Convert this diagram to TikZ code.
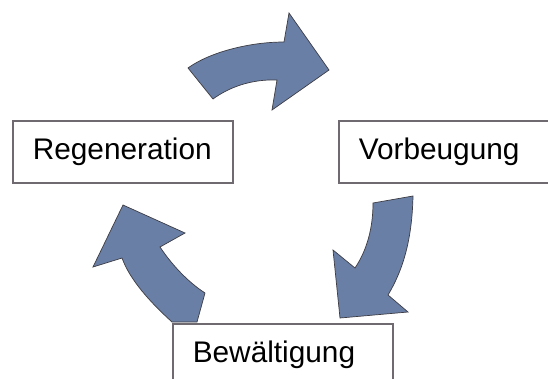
\documentclass[tikz,border=0pt]{standalone}
\usepackage{fontspec}
\setmainfont{Liberation Sans}
\definecolor{arrowfill}{HTML}{6A7FA5}
\definecolor{arrowline}{HTML}{3C3C44}
\definecolor{boxline}{HTML}{6F6A6F}
\begin{document}
\begin{tikzpicture}[x=1pt,y=-1pt,
  cyclearrow/.style={fill=arrowfill,draw=arrowline,line width=0.7pt,line join=miter},
  phase/.style={draw=boxline,fill=white,line width=1.6pt,rectangle,
    anchor=north west,text width=180pt,align=left,inner xsep=20pt,inner ysep=0pt,
    minimum height=62pt,font=\fontsize{29.8}{36}\selectfont}]
\useasboundingbox (0,0) rectangle (548,378);
\fill[white] (0,0) rectangle (548,378);

% upper arrow: Regeneration -> Vorbeugung
\path[cyclearrow] (188,68) .. controls (210,52) and (250,42) .. (284,42)
  -- (289,13) -- (329,70) -- (272,110) -- (277,80)
  .. controls (250,79) and (228,88) .. (213,99) -- cycle;

% right arrow: Vorbeugung -> Bewältigung
\path[cyclearrow] (373,203) -- (413,196)
  .. controls (412,240) and (403,270) .. (388,295)
  -- (408,312) -- (340,318) -- (333,250) -- (355,268)
  .. controls (367,250) and (373,228) .. cycle;

% left arrow: Bewältigung -> Regeneration
\path[cyclearrow] (172,322) .. controls (150,302) and (130,280) .. (122,258)
  -- (93,267) -- (123,205) -- (185,233) -- (160,247)
  .. controls (172,265) and (188,282) .. (205,293)
  -- (197,322) -- cycle;

% the three phases
\node[phase] (regeneration) at (12,120) {Regeneration};
\node[phase] (vorbeugung) at (338,120) {Vorbeugung};
\node[phase] (bewaeltigung) at (172,323) {Bewältigung};
\end{tikzpicture}
\end{document}
